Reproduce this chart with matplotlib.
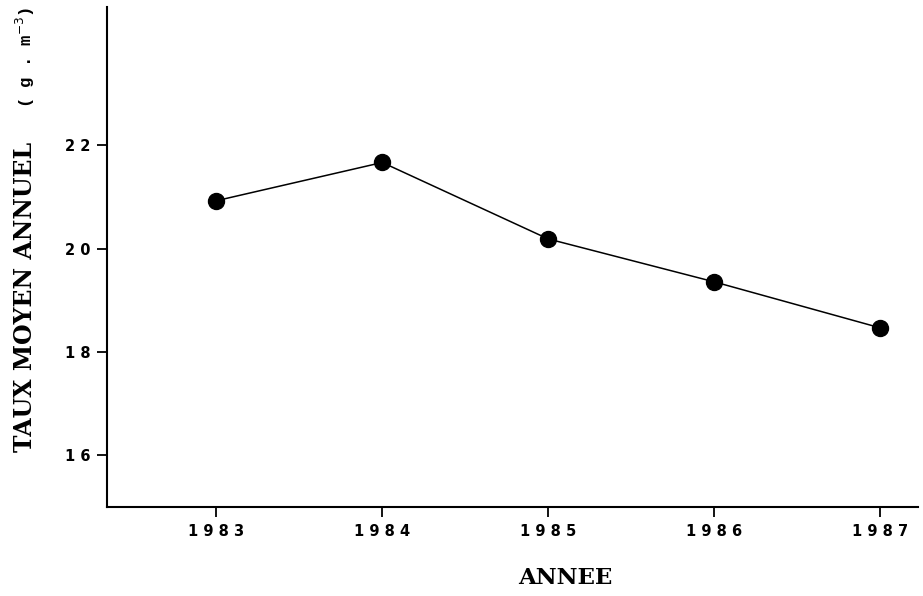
import matplotlib
matplotlib.use("Agg")
import matplotlib.pyplot as plt

years = [1983, 1984, 1985, 1986, 1987]
taux = [20.93, 21.67, 20.19, 19.36, 18.47]
yticks = [16, 18, 20, 22]
xticklabels = ["1983", "1984", "1985", "1986", "1987"]
yticklabels = ["16", "18", "20", "22"]

W, H = 923, 596
fig = plt.figure(figsize=(W / 100, H / 100), dpi=100)
ax = fig.add_axes([107 / W, 1 - 507 / H, (918 - 107) / W, (507 - 7) / H])

ax.plot(years, taux, color="black", linewidth=1.1, marker="o",
        markersize=11.5, markerfacecolor="black", markeredgecolor="black")

ax.set_xlim(1982.34, 1987.23)
ax.set_ylim(15.0, 24.68)
tickfont = dict(family="DejaVu Sans", fontsize=10.5, fontweight="bold")
ax.set_xticks(years)
ax.set_xticklabels([" ".join(s) for s in xticklabels], **tickfont)
ax.set_yticks(yticks)
ax.set_yticklabels([" ".join(s) for s in yticklabels], **tickfont)

for s in ["top", "right"]:
    ax.spines[s].set_visible(False)
for s in ["left", "bottom"]:
    ax.spines[s].set_linewidth(1.5)
ax.tick_params(axis="both", direction="out", length=7, width=1.3, pad=5)

fig.text(565 / W, 1 - 578 / H, "ANNEE", family="DejaVu Serif", fontweight="bold",
         fontsize=16.5, ha="center", va="center")
fig.text(25 / W, 1 - 297 / H, "TAUX MOYEN ANNUEL", family="DejaVu Serif",
         fontweight="bold", fontsize=17, rotation=90, ha="center", va="center")
fig.text(25 / W, 1 - 57 / H, "( g . m$^{-3}$)", family="Liberation Mono",
         fontweight="bold", fontsize=12.5, rotation=90, ha="center", va="center")

fig.savefig("out.png", dpi=100)
